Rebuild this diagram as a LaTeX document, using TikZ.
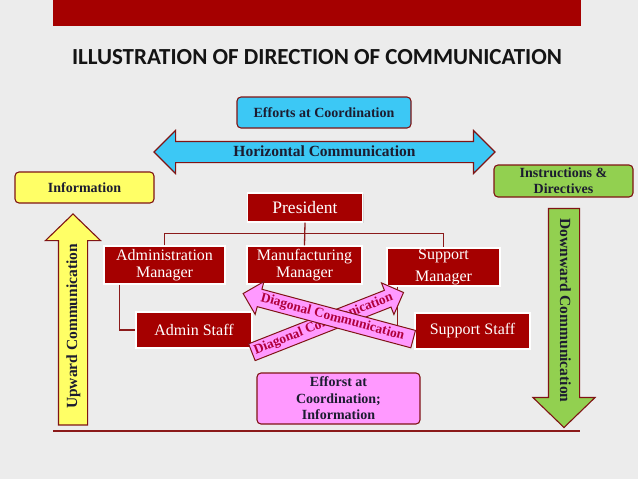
\documentclass[tikz,border=0pt]{standalone}
\usepackage{fontspec}
\setmainfont{Liberation Serif}
\newfontfamily\titlefont{Carlito}
\usetikzlibrary{shapes.arrows,shadows}
\definecolor{bgc}{HTML}{ECECEC}
\definecolor{bannerc}{HTML}{A50000}
\definecolor{boxred}{HTML}{A50000}
\definecolor{bord}{HTML}{7F1414}
\definecolor{cyanc}{HTML}{3CC8F5}
\definecolor{yellowc}{HTML}{FFFF66}
\definecolor{greenc}{HTML}{92D050}
\definecolor{pinkc}{HTML}{FF99FF}
\definecolor{navytext}{HTML}{1C1C30}
\definecolor{diagtext}{HTML}{B0003C}
\definecolor{linec}{HTML}{8B1A1A}
\definecolor{titlec}{HTML}{141414}
\begin{document}
\begin{tikzpicture}[x=1pt,y=-1pt,
  redbox/.style={draw=white, line width=1.2pt, fill=boxred, text=white,
    font=\fontsize{16}{17}\selectfont, align=center, inner sep=0pt,
    drop shadow={opacity=0.2, shadow xshift=1pt, shadow yshift=-1pt}},
  colbox/.style={draw=bord, line width=1.1pt, rounded corners=4pt, text=navytext,
    font=\bfseries\fontsize{14}{16}\selectfont, align=center, inner sep=0pt},
  conn/.style={draw=linec, line width=1.3pt},
  bigarrow/.style={draw=bord, line width=1.1pt, text=navytext,
    font=\bfseries\fontsize{15.5}{17}\selectfont, inner xsep=0pt,
    text height=11pt, text depth=3pt},
  diagarrow/.style={single arrow, draw=bord, line width=1pt, fill=pinkc, text=diagtext,
    font=\bfseries\fontsize{13.5}{15}\selectfont, inner xsep=0pt, inner ysep=2.25pt,
    text height=9.5pt, text depth=3pt, single arrow head extend=8pt,
    single arrow tip angle=90}
]
\fill[bgc] (0,0) rectangle (638,479);
\useasboundingbox (0,0) rectangle (638,479);
\fill[bannerc] (53,0) rectangle (581,26);
\node[font=\titlefont\bfseries\fontsize{23}{26}\selectfont, text=titlec] (title) at (317,57)
  {ILLUSTRATION OF DIRECTION OF COMMUNICATION};

% coloured boxes
\node[colbox, fill=cyanc, minimum width=174pt, minimum height=31pt] (eff) at (324,112.5) {Efforts at Coordination};
\node[colbox, fill=yellowc, minimum width=139pt, minimum height=31pt] (info) at (84.5,187.5) {Information};
\node[colbox, fill=greenc, minimum width=139pt, minimum height=32pt] (instr) at (563.5,181) {Instructions \&\\Directives};
\node[colbox, fill=pinkc, minimum width=163pt, minimum height=51pt,
  font=\bfseries\fontsize{14}{16.5}\selectfont] (effc) at (338.5,398.5) {Efforst at\\Coordination;\\Information};

% big arrows
\node[bigarrow, double arrow, fill=cyanc, minimum height=341pt, inner ysep=3pt,
  double arrow head extend=11pt, double arrow tip angle=90] (horiz) at (324.5,152) {Horizontal Communication};
\node[bigarrow, single arrow, fill=yellowc, rotate=90, minimum height=211pt, inner ysep=7pt,
  single arrow head extend=13pt, single arrow tip angle=92] (up) at (73,326.5) {Upward Communication};
\node[bigarrow, single arrow, fill=greenc, rotate=-90, minimum height=219pt, inner ysep=8pt,
  single arrow head extend=15.5pt, single arrow tip angle=92] (down) at (564,310.5) {Downward Communication};

% org chart
\node[redbox, minimum width=115pt, minimum height=29pt, font=\fontsize{17.5}{19}\selectfont] (pres) at (305,207.5) {President};
\node[redbox, minimum width=121pt, minimum height=38pt] (am) at (164.5,265) {Administration\\Manager};
\node[redbox, minimum width=115pt, minimum height=38pt] (mm) at (304.5,265) {Manufacturing\\Manager};
\node[redbox, minimum width=113pt, minimum height=38pt] (sm) at (443.5,267) {Support\\[5pt]Manager};
\node[redbox, minimum width=116pt, minimum height=36pt] (as) at (194,330) {Admin Staff};
\node[redbox, minimum width=115pt, minimum height=36pt] (ss) at (472.5,331) {Support Staff};

\draw[conn] (pres.south) -- (mm.north);
\draw[conn] (am.north) -- ++(0,-12) -| (sm.north);
\draw[conn] ([xshift=16pt]am.south west) |- (as.west);
\draw[conn] ([xshift=11pt]sm.south west) |- (ss.west);

% bottom rule
\coordinate (bl) at (53,431);
\coordinate (br) at (580,431);
\draw[draw=linec, line width=1.5pt] (bl) -- (br);

% diagonal arrows
\node[diagarrow, rotate=21.5, minimum height=163pt] (diag2) at (323.5,324) {Diagonal Communication};
\node[diagarrow, rotate=-15, shape border rotate=180, minimum height=176pt] (diag1) at (332.5,317.5) {Diagonal Communication};
\end{tikzpicture}
\end{document}
